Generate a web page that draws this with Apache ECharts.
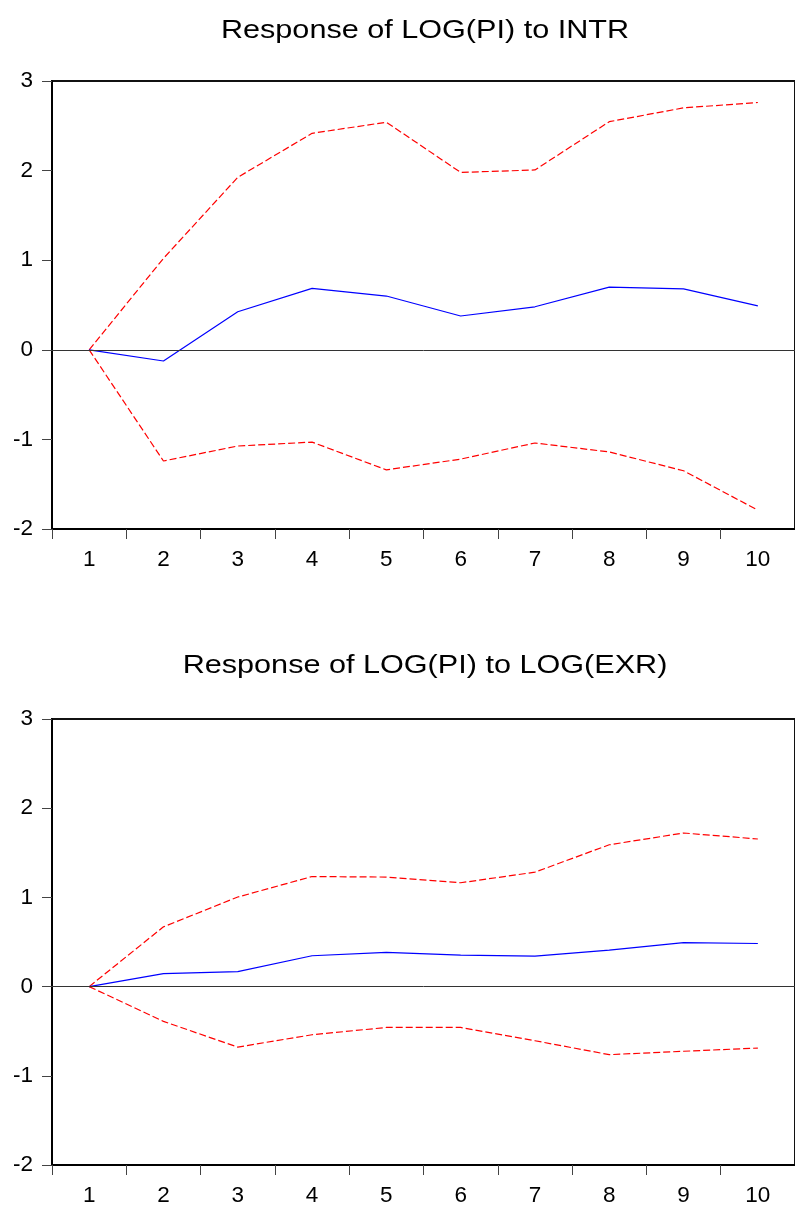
<!DOCTYPE html>
<html>
<head>
<meta charset="utf-8">
<script src="https://cdn.jsdelivr.net/npm/echarts@6/dist/echarts.min.js"></script>
<style>
html,body{margin:0;padding:0;background:#fff;}
#c{width:795px;height:1207px;}
</style>
</head>
<body>
<div id="c"></div>
<script>
var periods = ['1','2','3','4','5','6','7','8','9','10'];
var yTicks = [-2,-1,0,1,2,3];

var title1 = 'Response of LOG(PI) to INTR';
var resp1  = [0, -0.125, 0.425, 0.686, 0.60, 0.377, 0.48, 0.70, 0.68, 0.49];
var upper1 = [0, 1.02, 1.925, 2.416, 2.54, 1.98, 2.007, 2.546, 2.70, 2.76];
var lower1 = [0, -1.241, -1.074, -1.03, -1.34, -1.22, -1.04, -1.14, -1.35, -1.79];

var title2 = 'Response of LOG(PI) to LOG(EXR)';
var resp2  = [0, 0.145, 0.167, 0.346, 0.383, 0.353, 0.342, 0.41, 0.494, 0.483];
var upper2 = [0, 0.67, 1.004, 1.234, 1.228, 1.164, 1.283, 1.59, 1.722, 1.655];
var lower2 = [0, -0.39, -0.678, -0.54, -0.458, -0.458, -0.607, -0.763, -0.725, -0.689];

var FONT = 'Arial, "Liberation Sans", Helvetica, sans-serif';
var chart = echarts.init(document.getElementById('c'), null, {renderer:'canvas'});

function xAx(gi){
  return {
    type:'category', gridIndex:gi, data:periods, boundaryGap:true,
    axisLine:{show:true, onZero:false, lineStyle:{color:'#000', width:2}},
    axisTick:{show:true, inside:false, length:10, alignWithLabel:false, lineStyle:{color:'#444', width:1}},
    axisLabel:{color:'#000', fontSize:22.5, fontFamily:FONT, margin:19},
    splitLine:{show:false}
  };
}
function yAx(gi){
  return {
    type:'value', gridIndex:gi, min:yTicks[0], max:yTicks[yTicks.length-1], interval:1,
    axisLine:{show:true, lineStyle:{color:'#000', width:2}},
    axisTick:{show:true, inside:false, length:10, lineStyle:{color:'#444', width:1}},
    axisLabel:{color:'#000', fontSize:22.5, fontFamily:FONT, margin:19},
    splitLine:{show:false}
  };
}
function ser(gi, data, color, dashed, zero){
  var s = {
    type:'line', xAxisIndex:gi, yAxisIndex:gi, data:data,
    symbol:'none', smooth:false, silent:true, animation:false,
    lineStyle:{color:color, width:1.2, type: dashed ? [7,3] : 'solid'},
    z: dashed ? 3 : 4
  };
  if (zero) {
    s.markLine = {
      silent:true, symbol:['none','none'], label:{show:false}, animation:false,
      lineStyle:{color:'#333', width:1, type:'solid'},
      data:[{yAxis:0}]
    };
  }
  return s;
}
function titleText(txt, cy){
  return {
    type:'text', x:425, y:cy, scaleX:1.2, scaleY:1, silent:true,
    style:{text:txt, fill:'#000', font:'25.5px ' + FONT, textAlign:'center', textVerticalAlign:'middle', verticalAlign:'middle'}
  };
}

chart.setOption({
  animation:false,
  backgroundColor:'#fff',
  graphic:[ titleText(title1, 31), titleText(title2, 666) ],
  grid:[
    {left:52, top:81, width:745, height:448, show:true, borderColor:'#111', borderWidth:2, backgroundColor:'transparent'},
    {left:52, top:719, width:745, height:448, show:true, borderColor:'#111', borderWidth:2, backgroundColor:'transparent'}
  ],
  xAxis:[xAx(0), xAx(1)],
  yAxis:[yAx(0), yAx(1)],
  series:[
    ser(0, resp1, '#0000FF', false, true),
    ser(0, upper1, '#FF0000', true, false),
    ser(0, lower1, '#FF0000', true, false),
    ser(1, resp2, '#0000FF', false, true),
    ser(1, upper2, '#FF0000', true, false),
    ser(1, lower2, '#FF0000', true, false)
  ]
});
</script>
</body>
</html>
